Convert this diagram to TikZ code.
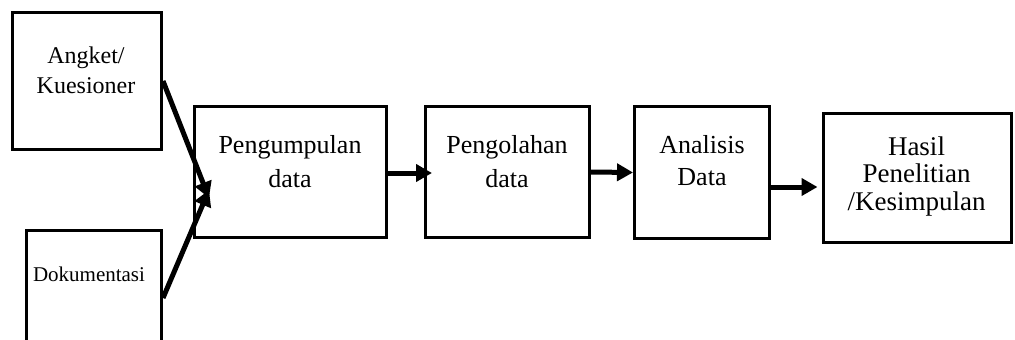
\documentclass[tikz,border=0pt]{standalone}
\usepackage{fontspec}
\setmainfont{Liberation Serif}
\usetikzlibrary{arrows.meta}

\tikzset{
  box/.style={draw, line width=3pt, rectangle, inner sep=0pt},
  % multi-line labels are placed by the baseline of their last line
  lbl/.style={anchor=base, align=center, inner sep=0pt},
  flow/.style={line width=5pt, -{Triangle[length=16pt,width=17pt]}},
}

\begin{document}
\begin{tikzpicture}[x=1pt, y=-1pt]
  \useasboundingbox (0,0) rectangle (1015,340);
  \clip (0,0) rectangle (1015,340);

  % source boxes
  \node[box, minimum width=149pt, minimum height=137pt] (ang) at (87,81) {};
  \node[box, minimum width=135pt, minimum height=135pt] (dok) at (94,298) {};

  % process chain
  \node[box, minimum width=192pt, minimum height=131pt] (pgm) at (290.5,172) {};
  \node[box, minimum width=164pt, minimum height=131pt] (pol) at (507.5,172) {};
  \node[box, minimum width=135pt, minimum height=132pt] (ana) at (702,172.5) {};
  \node[box, minimum width=188pt, minimum height=129pt] (has) at (917.5,178) {};

  % labels
  \node[lbl, font=\fontsize{24}{30}\selectfont] (angT) at (86,93) {Angket/\\Kuesioner};
  \node[lbl, font=\fontsize{21}{25}\selectfont] (dokT) at (89,281) {Dokumentasi};
  \node[lbl, font=\fontsize{26}{34}\selectfont] (pgmT) at (290,187) {Pengumpulan\\data};
  \node[lbl, font=\fontsize{26}{34}\selectfont] (polT) at (507,187) {Pengolahan\\data};
  \node[lbl, font=\fontsize{26}{32}\selectfont] (anaT) at (702,185) {Analisis\\Data};
  \node[lbl, font=\fontsize{27}{27.5}\selectfont] (hasT) at (916.5,210) {Hasil\\Penelitian\\/Kesimpulan};

  % converging inputs
  \coordinate (inA) at (209,198);
  \coordinate (inD) at (209,190);
  \draw[flow] (ang.east) -- (inA);
  \draw[flow] (dok.east) -- (inD);

  % chain arrows
  \draw[flow] ([yshift=-1pt]pgm.east) -- ([xshift=8pt,yshift=-1pt]pol.west);
  \draw[flow] (pol.east) -- (ana.west);
  \draw[flow] ([yshift=-14.5pt]ana.east) -- ([xshift=-4.5pt,yshift=-9pt]has.west);
\end{tikzpicture}
\end{document}
